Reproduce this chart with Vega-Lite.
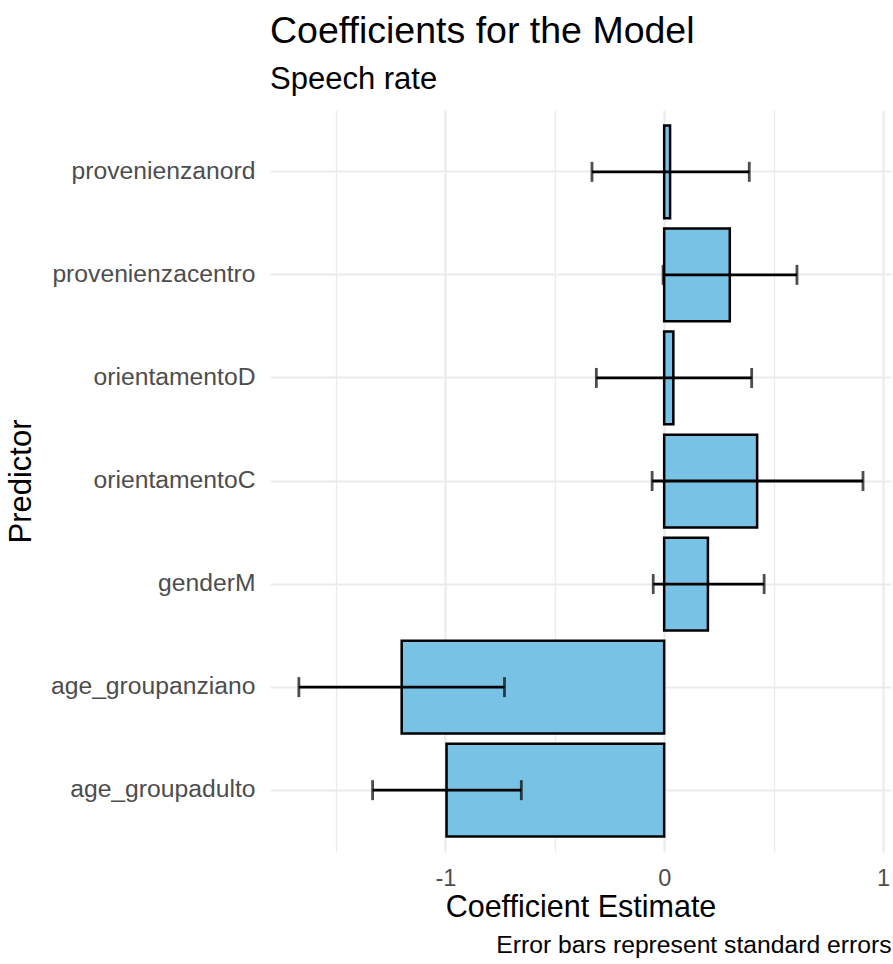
{
  "$schema": "https://vega.github.io/schema/vega-lite/v6.json",
  "autosize": {"type": "none"},
  "padding": {"left": 270, "top": 110, "right": 2, "bottom": 112},
  "width": 621,
  "height": 742,
  "background": "white",
  "config": {
    "view": {"stroke": null},
    "font": "Liberation Sans"
  },
  "title": {
    "text": "Coefficients for the Model",
    "subtitle": "Speech rate",
    "anchor": "start",
    "frame": "group",
    "font": "Liberation Sans",
    "subtitleFont": "Liberation Sans",
    "fontSize": 37.5,
    "subtitleFontSize": 31,
    "fontWeight": "normal",
    "color": "black",
    "subtitleColor": "black",
    "offset": 15,
    "subtitlePadding": 15
  },
  "data": {
    "values": [
      {"term": "provenienzanord", "est": 0.027, "lo": -0.33, "hi": 0.389},
      {"term": "provenienzacentro", "est": 0.30, "lo": -0.005, "hi": 0.607},
      {"term": "orientamentoD", "est": 0.042, "lo": -0.31, "hi": 0.40},
      {"term": "orientamentoC", "est": 0.425, "lo": -0.055, "hi": 0.909},
      {"term": "genderM", "est": 0.20, "lo": -0.05, "hi": 0.457},
      {"term": "age_groupanziano", "est": -1.20, "lo": -1.67, "hi": -0.73},
      {"term": "age_groupadulto", "est": -0.995, "lo": -1.333, "hi": -0.653}
    ]
  },
  "resolve": {"scale": {"x": "independent"}, "axis": {"x": "independent"}},
  "layer": [
    {
      "encoding": {
        "y": {
          "field": "term",
          "type": "nominal",
          "sort": ["provenienzanord", "provenienzacentro", "orientamentoD", "orientamentoC", "genderM", "age_groupanziano", "age_groupadulto"],
          "scale": {"paddingInner": 0.1, "paddingOuter": 0.15},
          "axis": {
            "title": "Predictor",
            "titleFontSize": 31,
            "titleFont": "Liberation Sans",
            "titleFontWeight": "normal",
            "titleColor": "black",
            "titlePadding": 33,
            "labelFontSize": 24.7,
            "labelFont": "Liberation Sans",
            "labelColor": "#4d4d4d",
            "labelPadding": 15,
            "labelLimit": 0,
            "ticks": false,
            "tickSize": 0,
            "domain": false,
            "grid": true,
            "bandPosition": 0.5,
            "gridColor": "#ebebeb",
            "gridWidth": 2.2
          }
        }
      },
      "layer": [
        {
          "mark": {"type": "bar", "fill": "#78c2e6", "stroke": "black", "strokeWidth": 2.5},
          "encoding": {
            "x": {
              "field": "est",
              "type": "quantitative",
              "scale": {"domain": [-1.802, 1.037], "nice": false, "zero": false},
              "axis": {
                "orient": "bottom",
                "title": "Coefficient Estimate",
                "titleFontSize": 30.5,
                "titleFont": "Liberation Sans",
                "titleFontWeight": "normal",
                "titleColor": "black",
                "titlePadding": 3,
                "values": [-1.5, -1, -0.5, 0, 0.5, 1],
                "labelExpr": "datum.value % 1 === 0 ? toString(datum.value) : ''",
                "labelFontSize": 23.5,
                "labelFont": "Liberation Sans",
                "labelColor": "#4d4d4d",
                "labelPadding": 14,
                "ticks": false,
                "tickSize": 0,
                "domain": false,
                "grid": true,
                "gridColor": "#ebebeb",
                "gridWidth": {"condition": {"test": "datum.value % 1 === 0", "value": 2.2}, "value": 1.3}
              }
            },
            "x2": {"datum": 0}
          }
        },
        {
          "mark": {"type": "rule", "color": "black", "strokeWidth": 2.8},
          "encoding": {
            "x": {"field": "lo", "type": "quantitative"},
            "x2": {"field": "hi"}
          }
        },
        {
          "mark": {"type": "tick", "color": "black", "thickness": 2.8, "size": 20},
          "encoding": {
            "x": {"field": "lo", "type": "quantitative"}
          }
        },
        {
          "mark": {"type": "tick", "color": "black", "thickness": 2.8, "size": 20},
          "encoding": {
            "x": {"field": "hi", "type": "quantitative"}
          }
        }
      ]
    },
    {
      "mark": {"type": "point", "opacity": 0},
      "encoding": {
        "x": {
          "field": "est",
          "type": "quantitative",
          "scale": {"domain": [-1.802, 1.037], "nice": false, "zero": false},
          "axis": {
            "orient": "bottom",
            "title": "Error bars represent standard errors",
            "titleAnchor": "end",
            "titleFontSize": 24.7,
            "titleFont": "Liberation Sans",
            "titleFontWeight": "normal",
            "titleColor": "black",
            "titlePadding": 80,
            "labels": false,
            "ticks": false,
            "tickSize": 0,
            "domain": false,
            "grid": false
          }
        }
      }
    }
  ]
}
